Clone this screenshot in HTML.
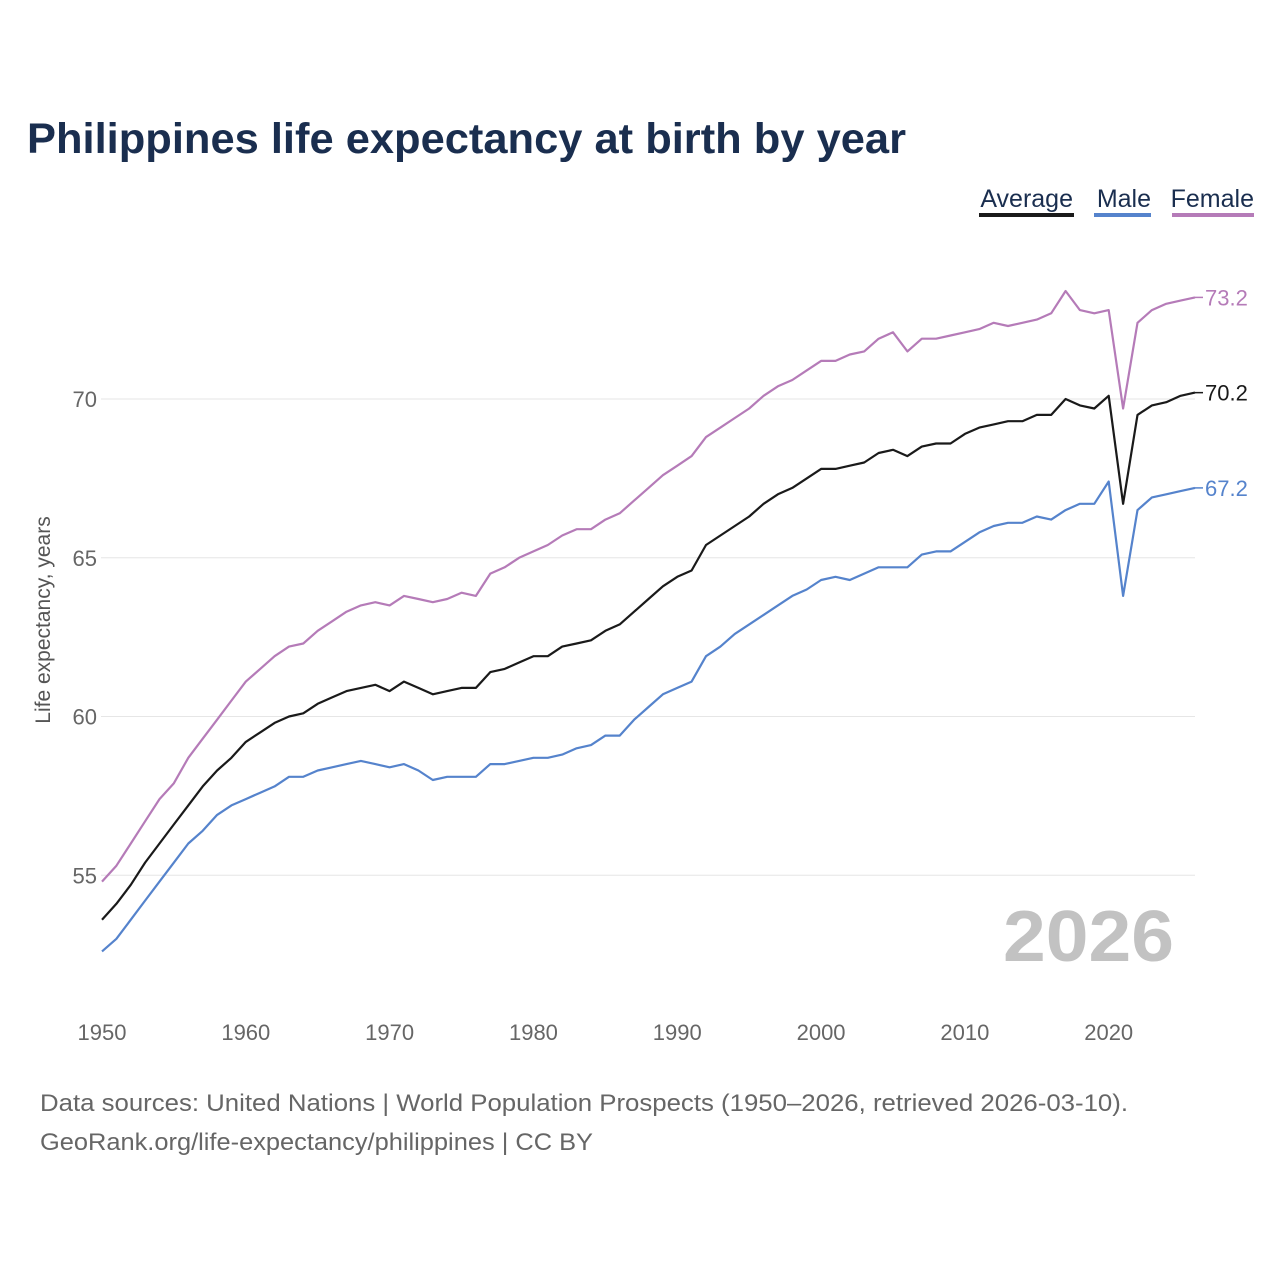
<!DOCTYPE html>
<html><head><meta charset="utf-8"><style>
body{margin:0;background:#fff;font-family:"Liberation Sans",sans-serif;}
</style></head><body>
<svg id="chart" width="1280" height="1280" xmlns="http://www.w3.org/2000/svg">
<text x="27" y="153" font-size="43" font-weight="bold" fill="#1a2e4f" textLength="879" lengthAdjust="spacingAndGlyphs">Philippines life expectancy at birth by year</text>
<g>
<g><text x="1073" y="207" font-size="25" text-anchor="end" fill="#1a2e4f">Average</text><rect x="979" y="213" width="95" height="4" fill="#1a1a1a"/></g>
<g><text x="1151" y="207" font-size="25" text-anchor="end" fill="#1a2e4f">Male</text><rect x="1094" y="213" width="57" height="4" fill="#5583cc"/></g>
<g><text x="1254" y="207" font-size="25" text-anchor="end" fill="#1a2e4f">Female</text><rect x="1172" y="213" width="82" height="4" fill="#b57bb8"/></g>
</g>
<g id="grid"></g>
<g id="yticks"></g>
<g id="xticks"></g>
<text transform="translate(50,620) rotate(-90)" text-anchor="middle" font-size="21" fill="#555">Life expectancy, years</text>
<text x="1003" y="961" font-size="72" font-weight="bold" fill="#c2c2c2" textLength="171" lengthAdjust="spacingAndGlyphs">2026</text>
<g id="series"></g>
<text x="40" y="1111" font-size="24" fill="#666" textLength="1088" lengthAdjust="spacingAndGlyphs">Data sources: United Nations | World Population Prospects (1950–2026, retrieved 2026-03-10).</text>
<text x="40" y="1150" font-size="24" fill="#666" textLength="553" lengthAdjust="spacingAndGlyphs">GeoRank.org/life-expectancy/philippines | CC BY</text>
</svg>
<script>
const years=[];for(let y=1950;y<=2026;y++)years.push(y);
const female=[54.8,55.3,56.0,56.7,57.4,57.9,58.7,59.3,59.9,60.5,61.1,61.5,61.9,62.2,62.3,62.7,63.0,63.3,63.5,63.6,63.5,63.8,63.7,63.6,63.7,63.9,63.8,64.5,64.7,65.0,65.2,65.4,65.7,65.9,65.9,66.2,66.4,66.8,67.2,67.6,67.9,68.2,68.8,69.1,69.4,69.7,70.1,70.4,70.6,70.9,71.2,71.2,71.4,71.5,71.9,72.1,71.5,71.9,71.9,72.0,72.1,72.2,72.4,72.3,72.4,72.5,72.7,73.4,72.8,72.7,72.8,69.7,72.4,72.8,73.0,73.1,73.2];
const average=[53.6,54.1,54.7,55.4,56.0,56.6,57.2,57.8,58.3,58.7,59.2,59.5,59.8,60.0,60.1,60.4,60.6,60.8,60.9,61.0,60.8,61.1,60.9,60.7,60.8,60.9,60.9,61.4,61.5,61.7,61.9,61.9,62.2,62.3,62.4,62.7,62.9,63.3,63.7,64.1,64.4,64.6,65.4,65.7,66.0,66.3,66.7,67.0,67.2,67.5,67.8,67.8,67.9,68.0,68.3,68.4,68.2,68.5,68.6,68.6,68.9,69.1,69.2,69.3,69.3,69.5,69.5,70.0,69.8,69.7,70.1,66.7,69.5,69.8,69.9,70.1,70.2];
const male=[52.6,53.0,53.6,54.2,54.8,55.4,56.0,56.4,56.9,57.2,57.4,57.6,57.8,58.1,58.1,58.3,58.4,58.5,58.6,58.5,58.4,58.5,58.3,58.0,58.1,58.1,58.1,58.5,58.5,58.6,58.7,58.7,58.8,59.0,59.1,59.4,59.4,59.9,60.3,60.7,60.9,61.1,61.9,62.2,62.6,62.9,63.2,63.5,63.8,64.0,64.3,64.4,64.3,64.5,64.7,64.7,64.7,65.1,65.2,65.2,65.5,65.8,66.0,66.1,66.1,66.3,66.2,66.5,66.7,66.7,67.4,63.8,66.5,66.9,67.0,67.1,67.2];
const yTicks=[55,60,65,70];
const xTicks=[1950,1960,1970,1980,1990,2000,2010,2020];
const X=y=>102+(y-1950)*(1195-102)/76;
const Y=v=>399-(v-70)*31.75;
const NS="http://www.w3.org/2000/svg";
function mk(tag,attrs,parent){const e=document.createElementNS(NS,tag);for(const k in attrs)e.setAttribute(k,attrs[k]);parent.appendChild(e);return e;}
const grid=document.getElementById('grid'),yt=document.getElementById('yticks'),xt=document.getElementById('xticks'),ser=document.getElementById('series');
yTicks.forEach(v=>{
 const l=mk('line',{x1:101,x2:1195,y1:Y(v),y2:Y(v),stroke:'#e6e6e6','stroke-width':1},grid);
 
 
 const t=mk('text',{x:97,y:Y(v)+8,'text-anchor':'end','font-size':22,fill:'#666'},yt);t.textContent=v;
 
 
});
xTicks.forEach(v=>{
 const t=mk('text',{x:X(v),y:1040,'text-anchor':'middle','font-size':22,fill:'#666'},xt);t.textContent=v;
 
 
});
[['female',female,'#b57bb8'],['average',average,'#1a1a1a'],['male',male,'#5583cc']].forEach(([n,d,c])=>{
 const p=mk('path',{d:d.map((v,i)=>(i?'L':'M')+X(years[i]).toFixed(1)+','+Y(v).toFixed(1)).join(''),fill:'none',stroke:c,'stroke-width':2.2,'stroke-linejoin':'round'},ser);
 
 
 const last=d[d.length-1],lx=X(years[years.length-1]);
 mk('line',{x1:lx,x2:lx+8,y1:Y(last),y2:Y(last),stroke:c,'stroke-width':1.5},ser);
 const t=mk('text',{x:lx+10,y:Y(last)+8,'font-size':22,fill:c},ser);t.textContent=last.toFixed(1);
 
 
});
</script>
</body></html>
